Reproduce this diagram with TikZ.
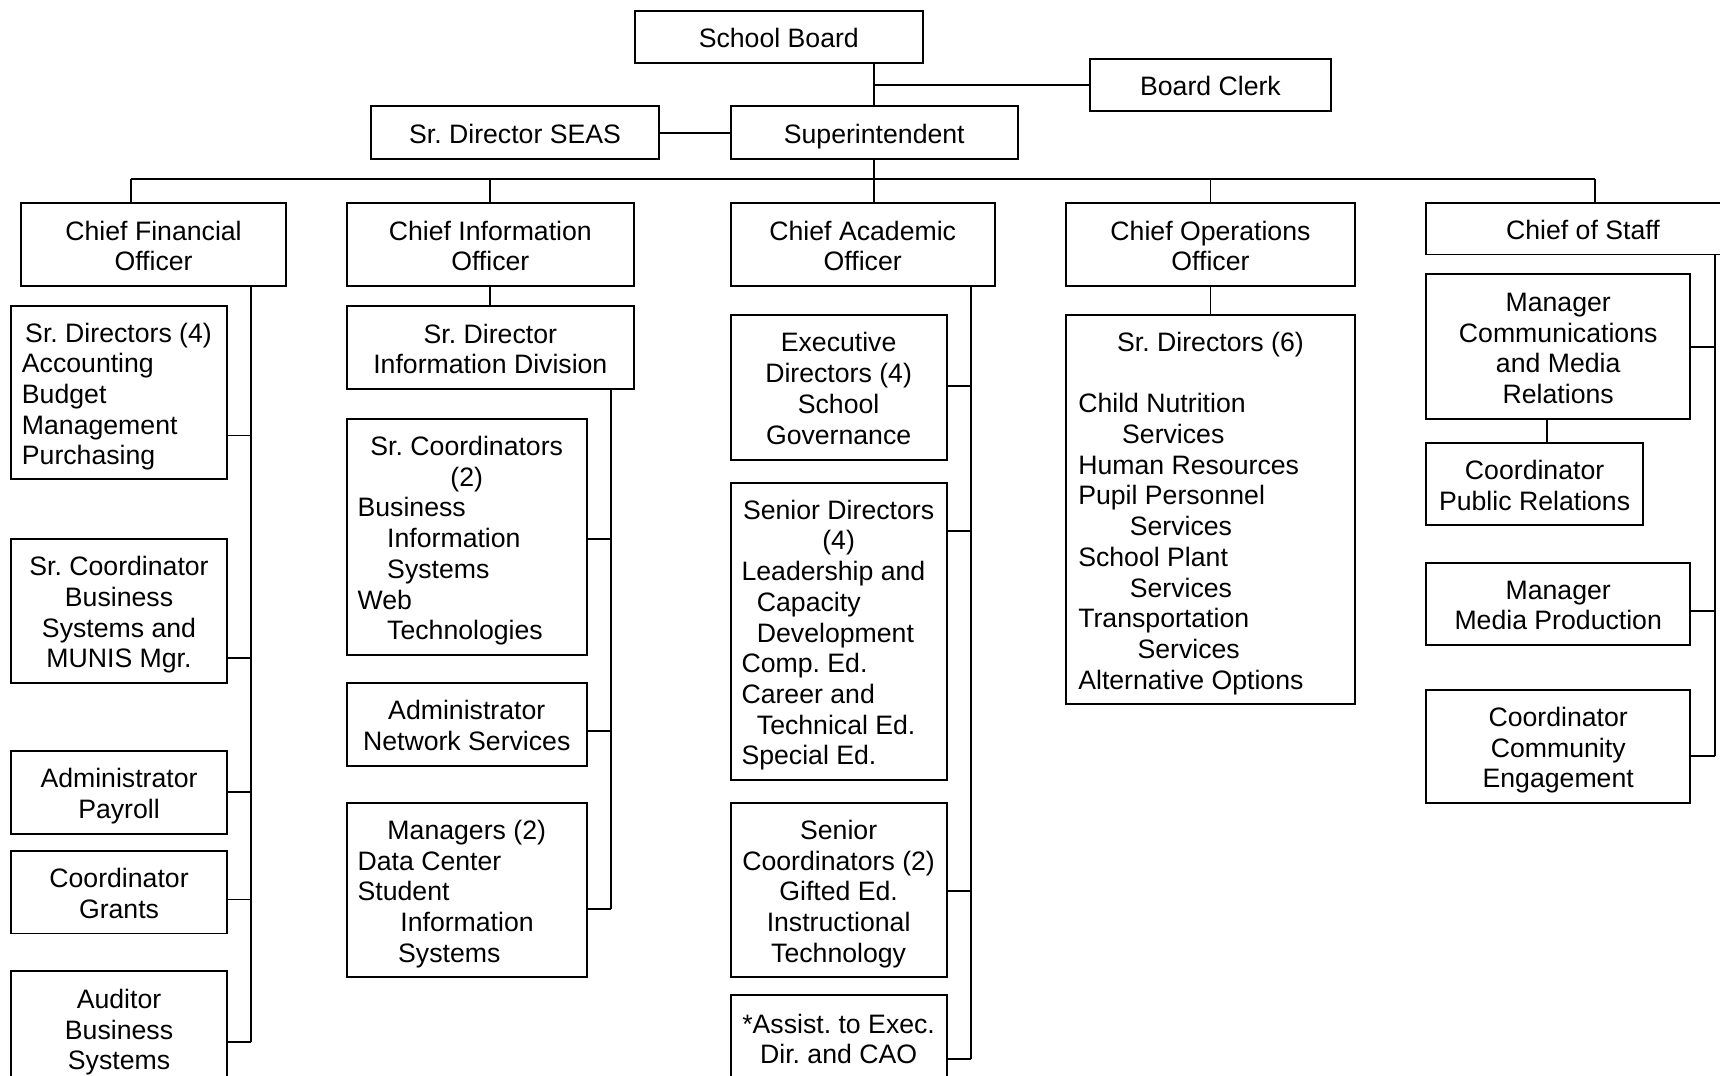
\documentclass[tikz,border=0pt]{standalone}
\usepackage{fontspec}
\setmainfont{Liberation Sans}
\frenchspacing
\newcommand\ctext[2]{\parbox{#1}{\centering\rule{0pt}{13pt}#2\rule[-3.2pt]{0pt}{3.2pt}}}
\newcommand\ltext[2]{\parbox{#1}{\raggedright\rule{0pt}{13pt}#2\rule[-3.2pt]{0pt}{3.2pt}}}
\begin{document}
\begin{tikzpicture}[x=0.5pt,y=-0.5pt,
  every node/.style={font=\fontsize{12.15}{14}\selectfont},
  bx/.style 2 args={draw, line width=0.9pt, minimum width=#1, minimum height=#2, inner sep=0pt},
  ln/.style={line width=0.9pt}]
\useasboundingbox (0,0) rectangle (1568,980);
\clip (0,0) rectangle (1568,980);

% top
\node[bx={131pt}{23.5pt}] (sb) at (710,33.5) {\ctext{131pt}{School Board}};
\node[bx={109.5pt}{23.5pt}] (bc) at (1103.5,77.5) {\ctext{109.5pt}{Board Clerk}};
\node[bx={131.5pt}{24pt}] (seas) at (469.5,121) {\ctext{131.5pt}{Sr. Director SEAS}};
\node[bx={131pt}{24pt}] (super) at (797,121) {\ctext{131pt}{Superintendent}};

% chiefs
\node[bx={121pt}{38pt}] (cfo) at (140,223) {\ctext{121pt}{Chief Financial\\Officer}};
\node[bx={131pt}{38pt}] (cio) at (447,223) {\ctext{131pt}{Chief Information\\Officer}};
\node[bx={120.5pt}{38pt}] (cao) at (786.5,223) {\ctext{120.5pt}{Chief Academic\\Officer}};
\node[bx={131.5pt}{38pt}] (coo) at (1103.5,223) {\ctext{131.5pt}{Chief Operations\\Officer}};
\node[bx={143pt}{23.5pt}] (cos) at (1443,208.5) {\ctext{143pt}{Chief of Staff}};

% CFO column
\node[bx={98.5pt}{79pt}] (sda) at (108.5,358) {\ltext{88.5pt}{\mbox{\hspace*{1.5pt}Sr. Directors (4)}\\Accounting\\Budget\\Management\\Purchasing}};
\node[bx={98.5pt}{66pt}] (scb) at (108.5,557) {\ctext{98.5pt}{Sr. Coordinator\\Business\\Systems and\\MUNIS Mgr.}};
\node[bx={98.5pt}{37.5pt}] (pay) at (108.5,722.5) {\ctext{98.5pt}{Administrator\\Payroll}};
\node[bx={98.5pt}{37.5pt}] (grn) at (108.5,813.5) {\ctext{98.5pt}{Coordinator\\Grants}};
\node[bx={98.5pt}{52.5pt}] (aud) at (108.5,937.5) {\ctext{98.5pt}{Auditor\\Business\\Systems}};

% CIO column
\node[bx={131pt}{38pt}] (sdi) at (447,317) {\ctext{131pt}{Sr. Director\\Information Division}};
\node[bx={109.5pt}{107.5pt}] (sc2) at (425.5,489.5) {\ltext{99.5pt}{\makebox[\linewidth]{Sr. Coordinators}\\\makebox[\linewidth]{(2)}\\Business\\\hspace*{13.5pt}Information\\\hspace*{13.5pt}Systems\\Web\\\hspace*{13.5pt}Technologies}};
\node[bx={109.5pt}{37.5pt}] (net) at (425.5,660.5) {\ctext{109.5pt}{Administrator\\Network Services}};
\node[bx={109.5pt}{79.5pt}] (mg2) at (425.5,811.5) {\ltext{99.5pt}{\makebox[\linewidth]{Managers (2)}\\Data Center\\Student\\\hspace*{19.5pt}Information\\\hspace*{18.5pt}Systems}};

% CAO column
\node[bx={98.5pt}{66pt}] (exd) at (764.5,353) {\ctext{98.5pt}{Executive\\Directors (4)\\School\\Governance}};
\node[bx={98.5pt}{135.5pt}] (snd) at (764.5,575.5) {\ltext{88.5pt}{\makebox[\linewidth]{Senior Directors}\\\makebox[\linewidth]{(4)}\\Leadership and\\\hspace*{7pt}Capacity\\\hspace*{7pt}Development\\Comp. Ed.\\Career and\\\hspace*{7pt}Technical Ed.\\Special Ed.}};
\node[bx={98.5pt}{79.5pt}] (snc) at (764.5,811.5) {\ctext{98.5pt}{Senior\\Coordinators (2)\\Gifted Ed.\\Instructional\\Technology}};
\node[bx={98.5pt}{39pt}] (ast) at (764.5,946) {\ctext{98.5pt}{*Assist. to Exec.\\Dir. and CAO}};

% COO column
\node[bx={131.5pt}{177.5pt}] (sd6) at (1103.5,464.5) {\ltext{120.5pt}{\makebox[\linewidth]{Sr. Directors (6)}\\[14pt]Child Nutrition\\\hspace*{20pt}Services\\Human Resources\\Pupil Personnel\\\hspace*{23.5pt}Services\\School Plant\\\hspace*{23.5pt}Services\\Transportation\\\hspace*{27pt}Services\\Alternative Options}};

% CoS column
\node[bx={120.5pt}{66pt}] (mc) at (1420.5,316) {\ctext{120.5pt}{Manager\\Communications\\and Media\\Relations}};
\node[bx={99pt}{37.5pt}] (pr) at (1399,441.5) {\ctext{99pt}{Coordinator\\Public Relations}};
\node[bx={120.5pt}{37.5pt}] (mp) at (1420.5,550.5) {\ctext{120.5pt}{Manager\\Media Production}};
\node[bx={120.5pt}{51.5pt}] (ce) at (1420.5,680.5) {\ctext{120.5pt}{Coordinator\\Community\\Engagement}};

% top connectors
\draw[ln] (super.north) -- (super.north |- sb.south);
\draw[ln] (super.north |- bc.west) -- (bc.west);
\draw[ln] (seas.east) -- (super.west);
\coordinate (busL) at (119,163);
\coordinate (busR) at (1454,163);
\draw[ln] (busL) -- (busR);
\draw[ln] (super.south) -- (super.south |- cao.north);
\draw[ln] (busL) -- (busL |- cfo.north);
\draw[ln] (cio.north) -- (cio.north |- busL);
\draw[ln] (coo.north) -- (coo.north |- busL);
\draw[ln] (busR) -- (busR |- cos.north);

% CFO
\coordinate (vA) at (229,950);
\draw[ln] (cfo.south -| vA) -- (vA);
\foreach \n/\y in {sda/397, scb/600, pay/722, grn/820, aud/950}{
  \coordinate (vA\n) at (229,\y);
  \draw[ln] (\n.east |- vA\n) -- (vA\n);
}

% CIO
\draw[ln] (cio.south) -- (sdi.north);
\coordinate (vB) at (557,829);
\draw[ln] (sdi.south -| vB) -- (vB);
\foreach \n/\y in {sc2/491, net/666, mg2/829}{
  \coordinate (vB\n) at (557,\y);
  \draw[ln] (\n.east |- vB\n) -- (vB\n);
}

% CAO
\coordinate (vC) at (885,965);
\draw[ln] (cao.south -| vC) -- (vC);
\foreach \n/\y in {exd/352, snd/484, snc/812, ast/965}{
  \coordinate (vC\n) at (885,\y);
  \draw[ln] (\n.east |- vC\n) -- (vC\n);
}

% COO
\draw[ln] (coo.south) -- (sd6.north);

% CoS
\coordinate (vD) at (1563,689);
\draw[ln] (cos.south -| vD) -- (vD);
\foreach \n/\y in {mc/316, mp/557, ce/689}{
  \coordinate (vD\n) at (1563,\y);
  \draw[ln] (\n.east |- vD\n) -- (vD\n);
}
\coordinate (prx) at (1410,0);
\draw[ln] (mc.south -| prx) -- (pr.north -| prx);
\end{tikzpicture}
\end{document}
